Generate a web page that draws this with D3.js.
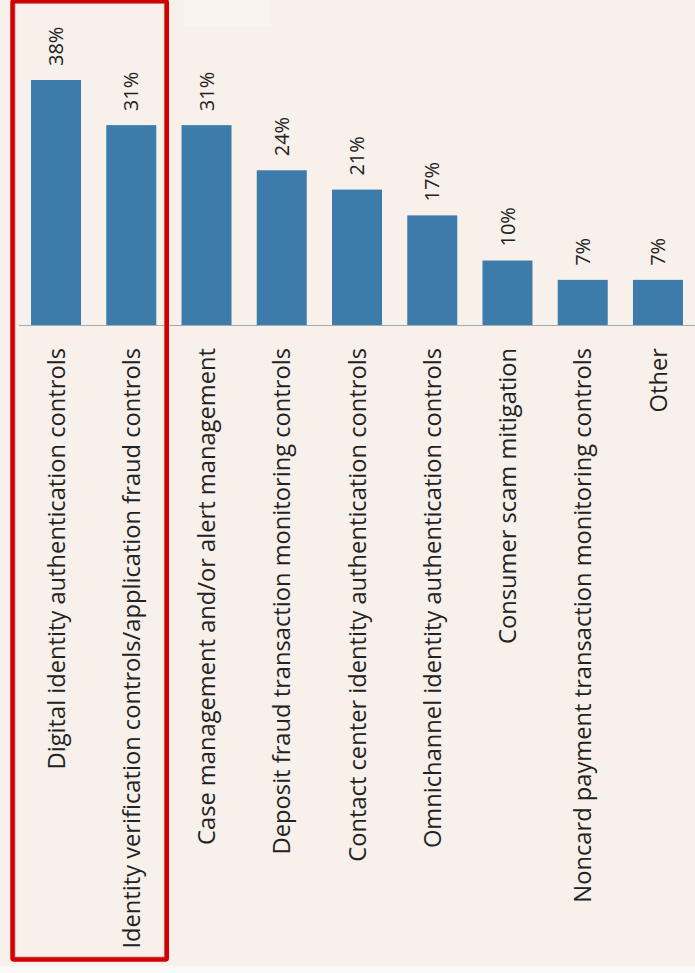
<!DOCTYPE html>
<html>
<head>
<meta charset="utf-8">
<script src="https://cdn.jsdelivr.net/npm/d3@7"></script>
<style>
  html, body { margin: 0; padding: 0; background: #f7f0eb; }
  svg { display: block; }
</style>
</head>
<body>
<svg id="chart" width="695" height="973"></svg>
<script>
const categories = [
  "Digital identity authentication controls",
  "Identity verification controls/application fraud controls",
  "Case management and/or alert management",
  "Deposit fraud transaction monitoring controls",
  "Contact center identity authentication controls",
  "Omnichannel identity authentication controls",
  "Consumer scam mitigation",
  "Noncard payment transaction monitoring controls",
  "Other"
];
const values = [38, 31, 31, 24, 21, 17, 10, 7, 7];
const valueLabels = ["38%", "31%", "31%", "24%", "21%", "17%", "10%", "7%", "7%"];
const highlighted = [categories[0], categories[1]];

const W = 695, H = 973;
const baseY = 325;
const svg = d3.select("#chart");

svg.append("rect").attr("x", 0).attr("y", 0).attr("width", W).attr("height", H).attr("fill", "#f7f0eb");
svg.append("rect").attr("x", 0).attr("y", 966).attr("width", W).attr("height", H - 966).attr("fill", "#fbf9f7");
svg.append("rect").attr("x", 184).attr("y", 0).attr("width", 86).attr("height", 26).attr("fill", "#f9f4ef");

const x = d3.scaleBand().domain(categories).range([18.4, 695.6]).paddingInner(0.3355).paddingOuter(0.1678);
const y = d3.scaleLinear().domain([0, 38]).range([baseY, 80]);

const data = categories.map((c, i) => ({ c, v: values[i], label: valueLabels[i] }));

svg.selectAll("rect.bar").data(data).join("rect")
  .attr("class", "bar")
  .attr("x", d => x(d.c))
  .attr("y", d => y(d.v))
  .attr("width", x.bandwidth())
  .attr("height", d => y(0) - y(d.v))
  .attr("fill", "#3d7caa");

// baseline
svg.append("line").attr("x1", 19).attr("x2", W).attr("y1", baseY + 0.5).attr("y2", baseY + 0.5)
  .attr("stroke", "#a9a9a9").attr("stroke-width", 1.2);

// value labels
svg.selectAll("text.val").data(data).join("text")
  .attr("class", "val")
  .attr("transform", d => `translate(${x(d.c) + x.bandwidth() / 2},${y(d.v) - 14}) rotate(-90)`)
  .attr("dy", "0.36em")
  .attr("text-anchor", "start")
  .attr("font-family", "'Open Sans', Lato, sans-serif")
  .attr("font-size", 20)
  .attr("fill", "#222")
  .text(d => d.label);

// category labels
svg.selectAll("text.cat").data(data).join("text")
  .attr("class", "cat")
  .attr("transform", d => `translate(${x(d.c) + x.bandwidth() / 2},348) rotate(-90)`)
  .attr("dy", "0.36em")
  .attr("text-anchor", "end")
  .attr("font-family", "'Open Sans', Lato, sans-serif")
  .attr("font-size", 23.7)
  .attr("fill", "#222")
  .text(d => d.c);

// highlight box around first two categories
const x0 = x(highlighted[0]) - 18.5, x1 = x(highlighted[1]) + x.bandwidth() + 10.5;
svg.append("rect")
  .attr("x", x0 + 2.5).attr("y", 3.5).attr("width", x1 - x0 - 5).attr("height", 959.5 - 3.5 - 2.5)
  .attr("fill", "none").attr("stroke", "#9a8f8a").attr("stroke-width", 0.8);
svg.append("rect")
  .attr("x", x0).attr("y", 1).attr("width", x1 - x0).attr("height", 959.5 - 1)
  .attr("rx", 1.5)
  .attr("fill", "none").attr("stroke", "#d40000").attr("stroke-width", 4.5);
</script>
</body>
</html>
